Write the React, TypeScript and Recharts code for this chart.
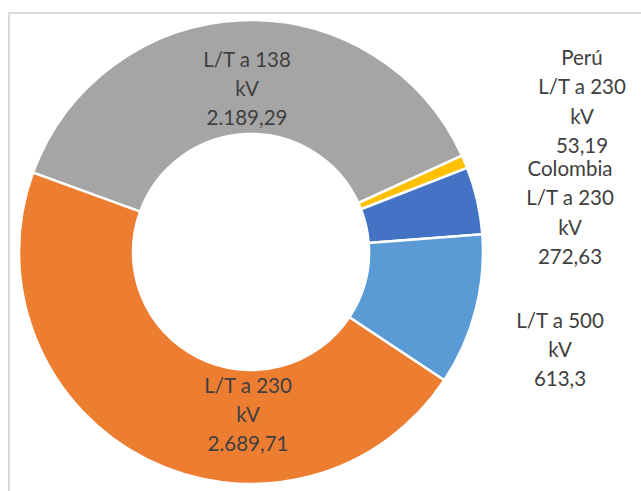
import { PieChart, Pie, Cell } from 'recharts';

// slices in drawing order (clockwise from the 138 kV slice)
const categories = [
  'L/T a 138\nkV',
  'Perú\nL/T a 230\nkV',
  'Colombia\nL/T a 230\nkV',
  'L/T a 500\nkV',
  'L/T a 230\nkV',
];
const values = [2189.29, 53.19, 272.63, 613.3, 2689.71];
const colors = ['#A5A5A5', '#FFC000', '#4472C4', '#5B9BD5', '#ED7D31'];

// label block centres, relative to the pie centre
const labelOffsets = [
  { dx: -4, dy: -164 },
  { dx: 331, dy: -151 },
  { dx: 319, dy: -40 },
  { dx: 309, dy: 97 },
  { dx: -3, dy: 162 },
];

const data = categories.map((name, i) => ({ name, value: values[i] }));

const LINE_H = 29.3;

function formatEs(v: number) {
  const [int, dec] = v.toString().split('.');
  return int.replace(/\B(?=(\d{3})+(?!\d))/g, '.') + (dec ? ',' + dec : '');
}

function renderLabel(props: any) {
  const { cx, cy, index } = props;
  const off = labelOffsets[index];
  const lines = [...categories[index].split('\n'), formatEs(values[index])];
  const x = cx + off.dx;
  const top = cy + off.dy - ((lines.length - 1) * LINE_H) / 2;
  return (
    <text
      x={x}
      y={top}
      textAnchor="middle"
      dominantBaseline="central"
      fill="#404040"
      style={{ fontFamily: 'Lato, "Open Sans", sans-serif', fontSize: 20.5 }}
    >
      {lines.map((l, i) => (
        <tspan key={i} x={x} y={top + i * LINE_H}>
          {l}
        </tspan>
      ))}
    </text>
  );
}

export default function App() {
  return (
    <div
      style={{
        position: 'fixed',
        left: 0,
        top: 0,
        width: 641,
        height: 491,
        overflow: 'hidden',
        background: '#fff',
      }}
    >
      <div
        style={{
          position: 'absolute',
          left: 8,
          top: 12,
          width: 700,
          height: 600,
          borderTop: '2px solid #D9D9D9',
          borderLeft: '2px solid #D9D9D9',
        }}
      />
      <div style={{ position: 'absolute', left: 0, top: 0 }}>
        <PieChart
          width={641}
          height={491}
          margin={{ top: 0, right: 0, bottom: 0, left: 0 }}
        >
          <Pie
            data={data}
            dataKey="value"
            nameKey="name"
            cx={251}
            cy={252}
            innerRadius={118}
            outerRadius={232}
            startAngle={160}
            endAngle={-200}
            stroke="#FFFFFF"
            strokeWidth={2.5}
            label={renderLabel}
            labelLine={false}
            isAnimationActive={false}
          >
            {data.map((entry, index) => (
              <Cell key={`cell-${index}`} fill={colors[index]} />
            ))}
          </Pie>
        </PieChart>
      </div>
    </div>
  );
}
